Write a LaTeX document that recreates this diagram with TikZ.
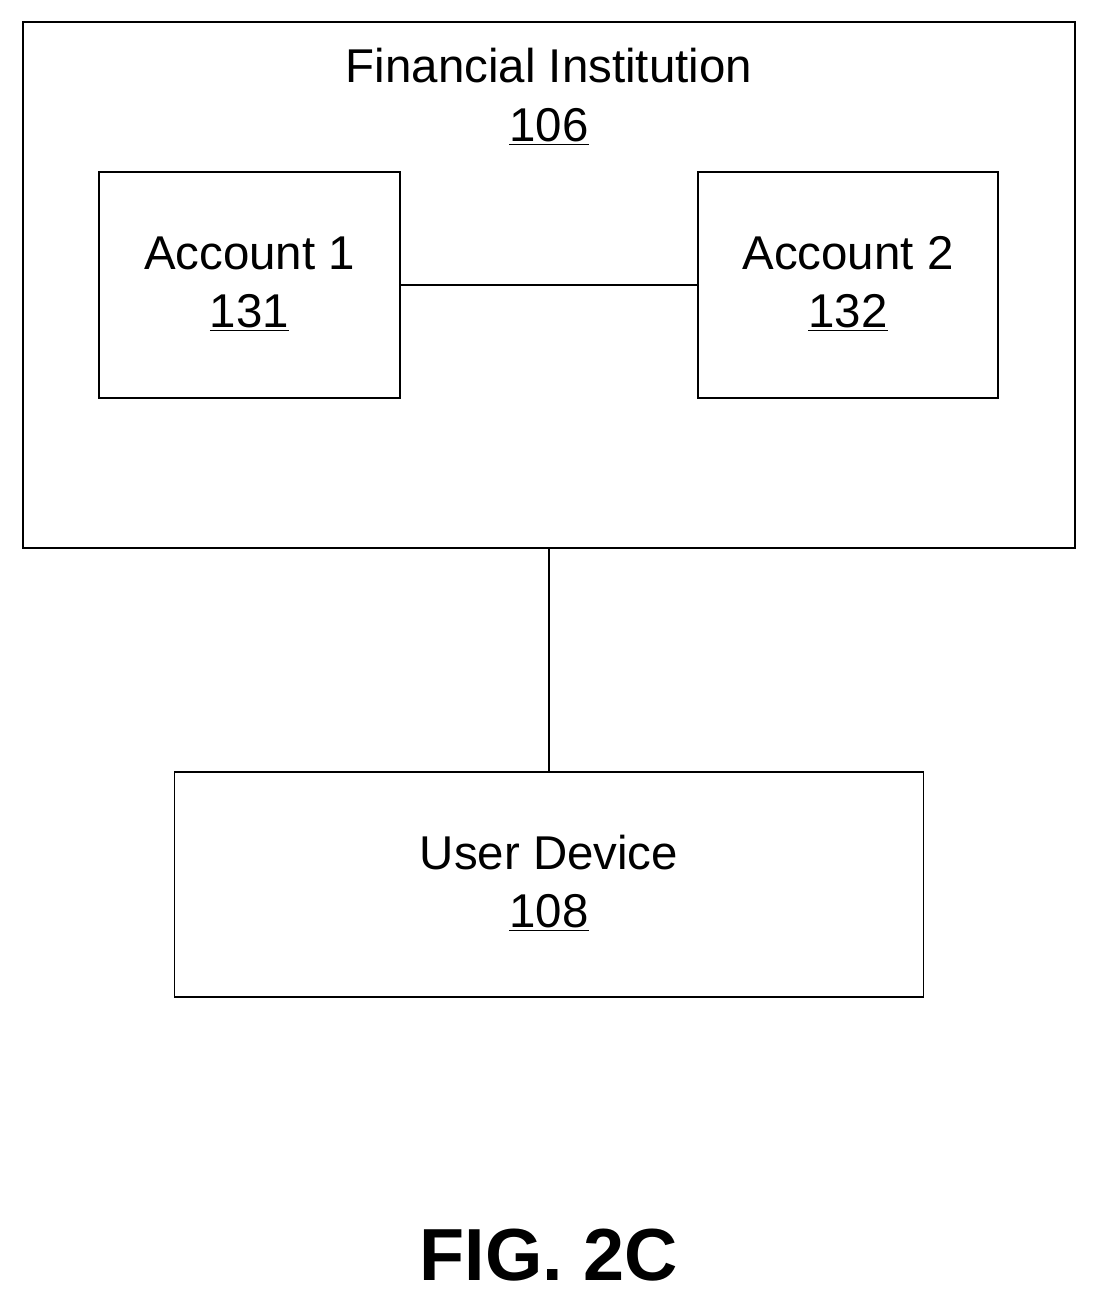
\documentclass[tikz,border=0pt]{standalone}
\usepackage{fontspec}
\setmainfont{Liberation Sans}
\usetikzlibrary{positioning}
\tikzstyle{box} = [draw, thick, inner sep=0pt]
\tikzstyle{lbl} = [font=\fontsize{27}{32}\selectfont, align=center]
\begin{document}
\begin{tikzpicture}[x=0.02cm, y=-0.02cm]
			\useasboundingbox (0, 0) rectangle (1097, 1303);
			\node[box, minimum width=1052*0.02cm, minimum height=526*0.02cm](fi) at (549, 285){};
			\node[box, minimum width=301*0.02cm, minimum height=226*0.02cm](a1) at (249.5, 285){};
			\node[box, minimum width=300*0.02cm, minimum height=226*0.02cm](a2) at (848, 285){};
			\node[box, minimum width=749*0.02cm, minimum height=225*0.02cm](ud) at (549, 884.5){};
			
			\node[lbl] at (549, 66){Financial Institution};
			\node[lbl] at (549, 127){\underline{106}};
			\node[lbl] at (249.5, 253){Account 1};
			\node[lbl] at (249.5, 313){\underline{131}};
			\node[lbl] at (848, 253){Account 2};
			\node[lbl] at (848, 313){\underline{132}};
			\node[lbl] at (549, 853){User Device};
			\node[lbl] at (549, 913){\underline{108}};
			
			\draw[thick](a1) -- (a2);
			\draw[thick](fi.south) -- (ud.north);
			
			\node[font=\fontsize{42}{48}\selectfont\bfseries] at (549, 1255){FIG. 2C};
		\end{tikzpicture}
\end{document}
